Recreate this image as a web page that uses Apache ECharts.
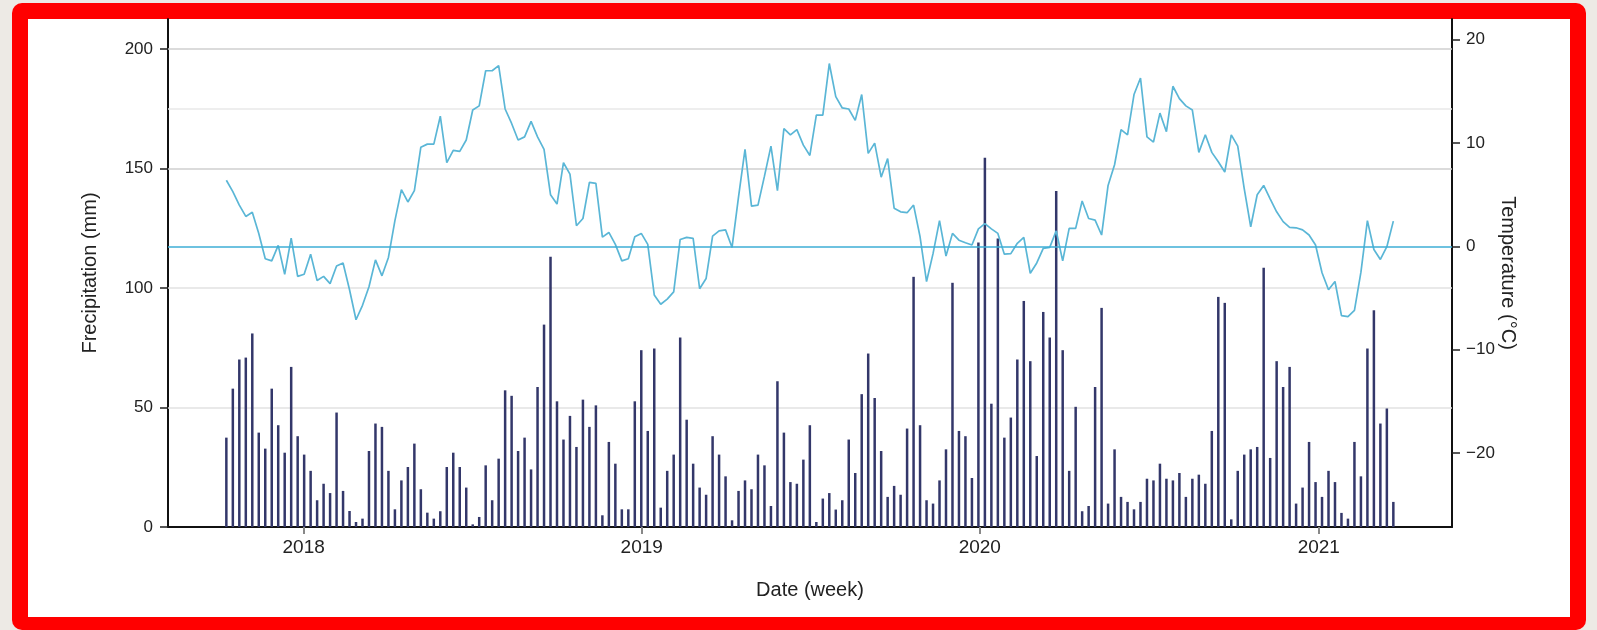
<!DOCTYPE html>
<html>
<head>
<meta charset="utf-8">
<script src="https://cdn.jsdelivr.net/npm/echarts@6/dist/echarts.min.js"></script>
<style>
  html, body { margin: 0; padding: 0; width: 1597px; height: 630px; overflow: hidden; background: #edeae5; }
  #outer { position: absolute; left: 12px; top: 3px; width: 1574px; height: 627px; background: #ff0000; border-radius: 10px; }
  #inner { position: absolute; left: 28px; top: 19px; width: 1542px; height: 598px; background: #ffffff; }
  #chart { position: absolute; left: 0; top: 0; width: 1597px; height: 630px; }
</style>
</head>
<body>
<div id="outer"></div>
<div id="inner"></div>
<div id="chart"></div>
<script>
// Weekly series starting on this date
const startDate = [2017, 9, 9];
const yearTicks = [2018, 2019, 2020, 2021];
const precipTicks = [0, 50, 100, 150, 200];
const tempTicks = [-20, -10, 0, 10, 20];

const precipitation = [
  37.4, 57.9, 70.1, 70.9, 81.0, 39.5, 32.8, 57.9, 42.6, 31.1, 67.0, 38.0, 30.3, 23.5, 11.2, 18.1, 14.2, 47.9, 15.1, 6.7,
  2.1, 3.5, 31.8, 43.3, 41.9, 23.5, 7.4, 19.5, 25.1, 34.9, 15.8, 6.0, 3.5, 6.6, 25.1, 31.1, 25.1, 16.5, 1.1, 4.2,
  25.8, 11.2, 28.6,
  57.2, 54.9, 31.8, 37.4, 24.1, 58.6, 84.7, 113.1, 52.6, 36.6, 46.5, 33.5, 53.3, 41.9, 50.9, 4.9, 35.6, 26.5, 7.4, 7.4,
  52.6, 74.0, 40.2, 74.7, 8.1, 23.5, 30.3, 79.3, 44.9, 26.5, 16.5, 13.5, 38.0, 30.3, 21.2, 2.8, 15.1, 19.5, 15.8, 30.3,
  25.8, 8.8, 61.0, 39.5, 18.8, 18.1, 28.2, 42.6, 2.1, 11.9, 14.2,
  7.3, 11.2, 36.6, 22.6, 55.6, 72.6, 54.0, 31.8, 12.6, 17.2, 13.5, 41.2, 104.7, 42.6, 11.2, 9.8, 19.5, 32.5, 102.2, 40.2,
  38.0, 20.5, 119.1, 154.5, 51.6, 120.7, 37.4, 45.8, 70.1, 94.6, 69.4, 29.7, 90.0, 79.3, 140.6, 74.0, 23.5, 50.3, 6.6, 8.8,
  58.6, 91.7, 9.8, 32.5, 12.6, 10.5, 7.4, 10.5, 20.2, 19.5, 26.5,
  20.2, 19.5, 22.6, 12.6, 20.2, 21.9, 18.1, 40.2, 96.3, 93.8, 3.2, 23.5, 30.3, 32.5, 33.5, 108.5, 28.9, 69.4, 58.6, 67.0,
  9.8, 16.5, 35.6, 18.8, 12.6, 23.5, 18.8, 5.9, 3.5, 35.6, 21.2, 74.7, 90.7, 43.3, 49.6, 10.5
];

const temperature = [
  6.4, 5.3, 4.0, 2.9, 3.3, 1.25, -1.2, -1.4, 0.1, -2.7, 0.8, -2.9, -2.7, -0.75, -3.3, -2.9, -3.6, -1.9, -1.6, -4.2,
  -7.1, -5.7, -3.9, -1.3, -2.85, -1.07, 2.5, 5.5, 4.3, 5.4, 9.6, 9.9, 9.9, 12.6, 8.1, 9.3, 9.2, 10.3, 13.2, 13.6,
  17.0, 17.0, 17.5,
  13.3, 11.9, 10.3, 10.6, 12.1, 10.6, 9.4, 5.0, 4.1, 8.1, 7.0, 2.0, 2.7, 6.2, 6.1, 0.9, 1.35, 0.2, -1.4, -1.2,
  0.93, 1.26, 0.2, -4.7, -5.6, -5.1, -4.4, 0.67, 0.87, 0.77, -4.1, -3.1, 1.0, 1.5, 1.6, -0.1, 4.8, 9.4, 3.9, 4.0,
  6.8, 9.7, 5.4, 11.4, 10.8, 11.3, 9.8, 8.8, 12.7, 12.7, 17.7,
  14.5, 13.4, 13.3, 12.2, 14.7, 9.0, 10.0, 6.7, 8.5, 3.7, 3.35, 3.26, 4.0, 0.93, -3.4, -0.7, 2.5, -0.94, 1.26, 0.6,
  0.35, 0.13, 1.7, 2.2, 1.7, 1.26, -0.75, -0.7, 0.3, 0.87, -2.6, -1.6, -0.2, -0.1, 1.5, -1.4, 1.74, 1.74, 4.4, 2.7,
  2.55, 1.1, 5.9, 7.9, 11.3, 10.8, 14.7, 16.3, 10.6, 10.1, 12.9,
  11.1, 15.5, 14.3, 13.6, 13.2, 9.1, 10.8, 9.1, 8.2, 7.2, 10.8, 9.7, 5.6, 1.9, 5.0, 5.9, 4.6, 3.35, 2.4, 1.84,
  1.8, 1.6, 1.1, 0.13, -2.55, -4.2, -3.4, -6.7, -6.8, -6.2, -2.5, 2.5, -0.3, -1.26, -0.03, 2.45
];

const DAY = 86400000;
const t0 = Date.UTC(startDate[0], startDate[1], startDate[2], 12);
const weeks = precipitation.map((_, i) => t0 + i * 7 * DAY);
const precipData = precipitation.map((v, i) => [weeks[i], v]);
const tempData = temperature.map((v, i) => [weeks[i], v]);
const yearValues = yearTicks.map(y => Date.UTC(y, 0, 1));

const FONT = 'Liberation Sans, Arial, sans-serif';
const minusFmt = v => (v < 0 ? '\u2212' + Math.abs(v) : String(v));
const chart = echarts.init(document.getElementById('chart'), null, { renderer: 'canvas' });

chart.setOption({
  animation: false,
  backgroundColor: 'transparent',
  grid: { left: 168, right: 145, top: 19, bottom: 103, containLabel: false },
  xAxis: {
    type: 'value',
    min: Date.UTC(2017, 7, 7, 12),
    max: Date.UTC(2021, 4, 24, 20),
    scale: true,
    name: 'Date (week)',
    nameLocation: 'middle',
    nameGap: 53,
    nameMoveOverlap: false,
    nameTextStyle: { fontFamily: FONT, fontSize: 20, color: '#222' },
    axisLine: { show: true, onZero: false, lineStyle: { color: '#111', width: 2 } },
    axisTick: { show: true, length: 7, customValues: yearValues, lineStyle: { color: '#888', width: 2 } },
    axisLabel: { customValues: yearValues, margin: 11.5, fontFamily: FONT, fontSize: 19, color: '#222',
                 formatter: v => String(new Date(v).getUTCFullYear()) },
    splitLine: { show: false }
  },
  yAxis: [
    {
      type: 'value', position: 'left', min: 0, max: 212.6,
      name: 'Frecipitation (mm)', nameLocation: 'middle', nameGap: 68, nameRotate: 90,
      nameMoveOverlap: false,
      nameTextStyle: { fontFamily: FONT, fontSize: 20, color: '#222' },
      axisLine: { show: true, lineStyle: { color: '#111', width: 2 } },
      axisTick: { show: true, length: 8, customValues: precipTicks, lineStyle: { color: '#222', width: 1.5 } },
      axisLabel: { customValues: precipTicks, margin: 15, fontFamily: FONT, fontSize: 17, color: '#222' },
      splitLine: { show: false }
    },
    {
      type: 'value', position: 'right', min: -27.16, max: 22.01,
      name: 'Temperature (°C)', nameLocation: 'middle', nameGap: 46, nameRotate: -90,
      nameMoveOverlap: false,
      nameTextStyle: { fontFamily: FONT, fontSize: 20, color: '#222' },
      axisLine: { show: true, onZero: false, lineStyle: { color: '#111', width: 2 } },
      axisTick: { show: true, length: 8, customValues: tempTicks, lineStyle: { color: '#222', width: 1.5 } },
      axisLabel: { customValues: tempTicks, margin: 14, fontFamily: FONT, fontSize: 17, color: '#222',
                   formatter: minusFmt },
      splitLine: { show: false }
    }
  ],
  series: [
    {
      type: 'bar', name: 'Precipitation', xAxisIndex: 0, yAxisIndex: 0,
      data: precipData, barWidth: 2.5,
      itemStyle: { color: '#33376a' },
      z: 3,
      markLine: {
        silent: true, symbol: 'none', label: { show: false }, z: 1,
        data: [
          { yAxis: 200, lineStyle: { color: '#cfcfcf', width: 1.5, type: 'solid' } },
          { yAxis: 175, lineStyle: { color: '#e8e8e8', width: 1.5, type: 'solid' } },
          { yAxis: 150, lineStyle: { color: '#cfcfcf', width: 1.5, type: 'solid' } },
          { yAxis: 100, lineStyle: { color: '#e2e2e2', width: 1.5, type: 'solid' } },
          { yAxis: 50, lineStyle: { color: '#e2e2e2', width: 1.5, type: 'solid' } }
        ]
      }
    },
    {
      type: 'line', name: 'Temperature', xAxisIndex: 0, yAxisIndex: 1,
      data: tempData, symbol: 'none', smooth: false,
      lineStyle: { color: '#5ab6d6', width: 1.7 },
      z: 4,
      markLine: {
        silent: true, symbol: 'none', label: { show: false },
        data: [ { yAxis: 0, lineStyle: { color: '#3eaed6', width: 1.5, type: 'solid' } } ]
      }
    }
  ]
});
</script>
</body>
</html>
